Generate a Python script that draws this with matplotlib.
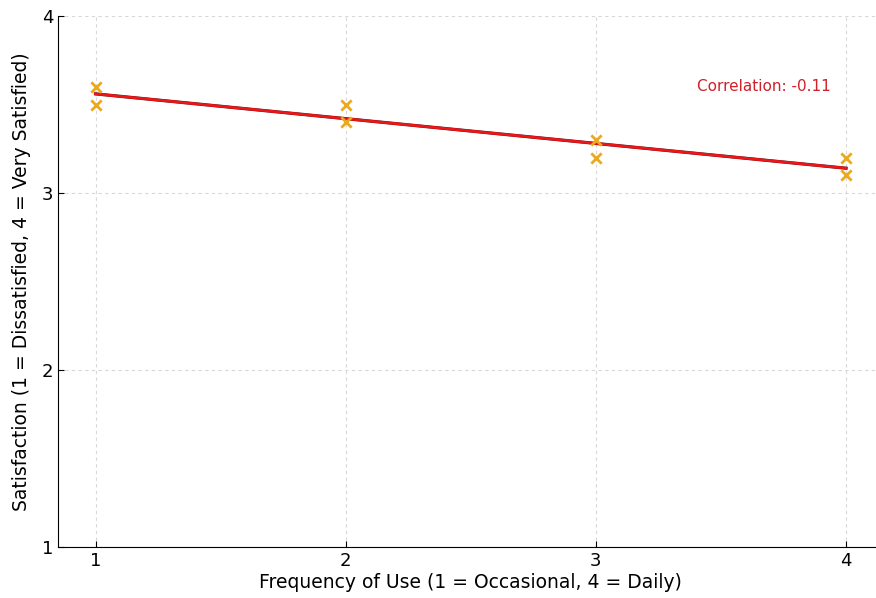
import matplotlib.pyplot as plt
import numpy as np

# survey responses
frequency = [1, 1, 2, 2, 3, 3, 4, 4]
satisfaction = [3.6, 3.5, 3.5, 3.4, 3.3, 3.2, 3.2, 3.1]
x_ticks = [1, 2, 3, 4]
y_ticks = [1, 2, 3, 4]
corr_label = "Correlation: -0.11"

fig = plt.figure(figsize=(8.76, 5.98), dpi=100)
ax = fig.add_axes([58 / 876, 51 / 598, (883.6 - 58) / 876, 531 / 598])

ax.scatter(frequency, satisfaction, marker='x', color='#EBA920', s=55, linewidths=2, zorder=3)

# trend line
slope, intercept = np.polyfit(frequency, satisfaction, 1)
xs = np.array([min(frequency), max(frequency)])
ax.plot(xs, slope * xs + intercept, color='#5a1a1a', linewidth=2.3, zorder=2)
ax.plot(xs, slope * xs + intercept, color='#ee1418', linewidth=1.9, zorder=2.5)

ax.text(3.67, 3.6, corr_label, color='#d0202a', fontsize=11, ha='center', va='center')

ax.set_xlim(0.85, 4.15)
ax.set_ylim(1, 4)
ax.set_xticks(x_ticks)
ax.set_yticks(y_ticks)
ax.tick_params(direction='in', length=4, labelsize=13)
ax.grid(True, linestyle=(0, (3, 3)), color='#d8d8d8', linewidth=0.8)
ax.set_axisbelow(True)
for side in ['top', 'right']:
    ax.spines[side].set_visible(False)

ax.set_xlabel("Frequency of Use (1 = Occasional, 4 = Daily)", fontsize=13.5, labelpad=2)
ax.set_ylabel("Satisfaction (1 = Dissatisfied, 4 = Very Satisfied)", fontsize=13.5, labelpad=8)

fig.savefig("out.png", dpi=100)
